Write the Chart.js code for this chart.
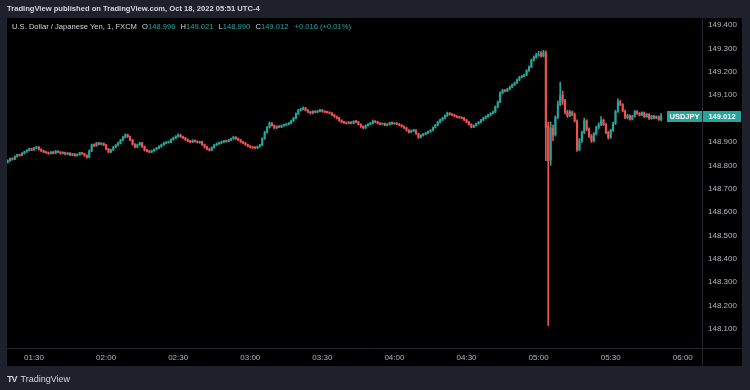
<!DOCTYPE html>
<html>
<head>
<meta charset="utf-8">
<script src="https://cdn.jsdelivr.net/npm/chart.js@4.4.1/dist/chart.umd.min.js"></script>
<style>
  html, body { margin: 0; padding: 0; background: #1e212b; }
  body { width: 750px; height: 390px; position: relative; overflow: hidden; font-family: "Liberation Sans", Arial, sans-serif; }
  canvas { position: absolute; left: 0; top: 0; }
  .header { position: absolute; left: 7px; top: 4px; font-size: 7.6px; font-weight: bold; color: #d1d4dc; white-space: nowrap; }
  .legend { position: absolute; left: 12px; top: 22px; font-size: 7.6px; color: #d1d4dc; white-space: nowrap; }
  .legend span { margin-left: 3px; }
  .legend .v { color: #26a69a; margin-left: 0; }
  .brand { position: absolute; left: 7px; top: 374px; font-size: 9px; color: #d1d4dc; white-space: nowrap; }
  .brand b { font-size: 9px; letter-spacing: -1px; margin-right: 4px; }
</style>
</head>
<body>
<canvas id="chart" width="750" height="390"></canvas>
<div class="header">TradingView published on TradingView.com, Oct 18, 2022 05:51 UTC-4</div>
<div class="legend">U.S. Dollar / Japanese Yen, 1, FXCM
  <span>O</span><span class="v">148.996</span>
  <span>H</span><span class="v">149.021</span>
  <span>L</span><span class="v">148.990</span>
  <span>C</span><span class="v">149.012</span>
  <span class="v" style="margin-left:4px">+0.016 (+0.01%)</span>
</div>
<div class="brand"><b>TV</b>TradingView</div>
<script>
// one-minute candles, first one on screen is 01:19
const startMinute = 79;

const opens = [
  148.812, 148.820, 148.828, 148.826, 148.838, 148.845, 148.842, 148.852, 148.858,
  148.864, 148.870, 148.866, 148.874, 148.878, 148.868, 148.862, 148.857, 148.854, 148.850,
  148.856, 148.852, 148.860, 148.857, 148.851, 148.855, 148.848, 148.852, 148.844, 148.848,
  148.842, 148.846, 148.853, 148.850, 148.842, 148.835, 148.862, 148.887, 148.884, 148.895,
  148.890, 148.893, 148.887, 148.870, 148.857, 148.866, 148.878, 148.886, 148.895, 148.908,
  148.920, 148.930, 148.922, 148.908, 148.890, 148.878, 148.888, 148.895, 148.880, 148.865,
  148.860, 148.857, 148.862, 148.868, 148.874, 148.880, 148.888, 148.895, 148.898, 148.900,
  148.910, 148.917, 148.924, 148.930, 148.922, 148.917, 148.910, 148.904, 148.900, 148.906,
  148.902, 148.898, 148.900, 148.888, 148.878, 148.870, 148.865, 148.876, 148.887, 148.892,
  148.895, 148.900, 148.904, 148.902, 148.908, 148.914, 148.920, 148.914, 148.908, 148.900,
  148.895, 148.888, 148.882, 148.878, 148.876, 148.874, 148.880, 148.887, 148.915, 148.942,
  148.962, 148.980, 148.970, 148.960, 148.966, 148.964, 148.970, 148.972, 148.976, 148.980,
  148.990, 149.002, 149.020, 149.036, 149.040, 149.045, 149.035, 149.028, 149.023, 149.030,
  149.028, 149.032, 149.036, 149.030, 149.028, 149.026, 149.023, 149.015, 149.008, 149.002,
  148.992, 148.985, 148.982, 148.980, 148.984, 148.980, 148.988, 148.985, 148.975, 148.966,
  148.960, 148.970, 148.976, 148.980, 148.988, 148.985, 148.980, 148.976, 148.978, 148.972,
  148.975, 148.982, 148.978, 148.980, 148.976, 148.972, 148.966, 148.960, 148.950, 148.942,
  148.948, 148.950, 148.935, 148.920, 148.928, 148.934, 148.938, 148.944, 148.950, 148.962,
  148.972, 148.985, 148.994, 149.002, 149.012, 149.023, 149.018, 149.015, 149.010, 149.006,
  149.004, 149.002, 148.994, 148.985, 148.975, 148.964, 148.970, 148.978, 148.985, 148.994,
  149.002, 149.008, 149.015, 149.022, 149.028, 149.050, 149.071, 149.110, 149.120, 149.118,
  149.126, 149.135, 149.144, 149.152, 149.165, 149.177, 149.180, 149.186, 149.205, 149.220,
  149.250, 149.262, 149.270, 149.275, 149.268, 149.282, 148.968, 148.822, 148.958, 148.930,
  149.006, 149.060, 149.100, 149.075, 149.030, 149.012, 149.028, 149.018, 148.990, 148.868,
  148.905, 148.940, 148.990, 148.955, 148.925, 148.905, 148.935, 148.962, 148.975, 148.992,
  148.975, 148.940, 148.920, 148.950, 148.980, 149.030, 149.072, 149.060, 149.032, 149.005,
  149.012, 148.998, 149.010, 149.030, 149.022, 149.015, 149.025, 149.008, 149.018, 149.000,
  149.010, 149.002, 149.008, 148.996
];

const highs = [
  148.824, 148.831, 148.832, 148.841, 148.848, 148.848, 148.855, 148.861, 148.867,
  148.874, 148.873, 148.877, 148.882, 148.880, 148.871, 148.865, 148.860, 148.857, 148.859,
  148.860, 148.864, 148.862, 148.859, 148.858, 148.857, 148.855, 148.855, 148.851, 148.850,
  148.849, 148.856, 148.856, 148.852, 148.845, 148.866, 148.891, 148.892, 148.899, 148.898,
  148.897, 148.896, 148.890, 148.873, 148.869, 148.881, 148.889, 148.899, 148.911, 148.924,
  148.935, 148.933, 148.925, 148.911, 148.893, 148.891, 148.899, 148.898, 148.883, 148.868,
  148.863, 148.865, 148.871, 148.877, 148.884, 148.891, 148.899, 148.902, 148.904, 148.913,
  148.921, 148.927, 148.935, 148.933, 148.925, 148.920, 148.913, 148.907, 148.910, 148.909,
  148.905, 148.903, 148.903, 148.891, 148.881, 148.873, 148.879, 148.890, 148.896, 148.899,
  148.904, 148.907, 148.908, 148.911, 148.917, 148.925, 148.923, 148.917, 148.911, 148.903,
  148.898, 148.891, 148.885, 148.881, 148.879, 148.883, 148.890, 148.918, 148.946, 148.966,
  148.986, 148.983, 148.973, 148.969, 148.970, 148.973, 148.976, 148.979, 148.984, 148.993,
  149.006, 149.024, 149.040, 149.044, 149.050, 149.048, 149.038, 149.031, 149.034, 149.033,
  149.035, 149.040, 149.039, 149.033, 149.031, 149.029, 149.026, 149.018, 149.011, 149.005,
  148.995, 148.988, 148.986, 148.987, 148.987, 148.991, 148.992, 148.988, 148.978, 148.969,
  148.973, 148.979, 148.984, 148.994, 148.991, 148.988, 148.983, 148.981, 148.981, 148.978,
  148.985, 148.986, 148.983, 148.983, 148.979, 148.975, 148.969, 148.963, 148.953, 148.951,
  148.954, 148.953, 148.938, 148.931, 148.937, 148.941, 148.947, 148.953, 148.965, 148.976,
  148.989, 148.998, 149.006, 149.016, 149.028, 149.026, 149.021, 149.018, 149.013, 149.009,
  149.007, 149.005, 148.997, 148.988, 148.978, 148.973, 148.981, 148.988, 148.997, 149.006,
  149.012, 149.018, 149.025, 149.032, 149.054, 149.075, 149.114, 149.126, 149.124, 149.130,
  149.139, 149.148, 149.156, 149.169, 149.181, 149.185, 149.190, 149.209, 149.225, 149.255,
  149.268, 149.279, 149.288, 149.286, 149.292, 149.290, 148.985, 148.985, 148.972, 149.012,
  149.075, 149.155, 149.118, 149.082, 149.036, 149.035, 149.032, 149.024, 148.995, 148.915,
  148.946, 149.002, 148.995, 148.960, 148.932, 148.940, 148.968, 148.982, 149.008, 148.998,
  148.980, 148.945, 148.955, 148.985, 149.035, 149.084, 149.078, 149.064, 149.036, 149.018,
  149.016, 149.014, 149.035, 149.034, 149.026, 149.029, 149.028, 149.022, 149.021, 149.014,
  149.014, 149.012, 149.011, 149.021
];

const lows = [
  148.809, 148.817, 148.822, 148.824, 148.835, 148.839, 148.840, 148.849, 148.855,
  148.861, 148.863, 148.864, 148.871, 148.865, 148.859, 148.854, 148.851, 148.847, 148.848,
  148.849, 148.850, 148.854, 148.848, 148.849, 148.845, 148.846, 148.841, 148.841, 148.839,
  148.839, 148.843, 148.847, 148.839, 148.831, 148.832, 148.858, 148.880, 148.881, 148.887,
  148.887, 148.884, 148.866, 148.853, 148.854, 148.863, 148.875, 148.883, 148.892, 148.905,
  148.917, 148.919, 148.905, 148.886, 148.874, 148.875, 148.885, 148.877, 148.861, 148.857,
  148.853, 148.854, 148.859, 148.865, 148.871, 148.877, 148.885, 148.892, 148.895, 148.897,
  148.907, 148.914, 148.921, 148.919, 148.914, 148.906, 148.901, 148.896, 148.897, 148.899,
  148.895, 148.894, 148.885, 148.874, 148.866, 148.861, 148.862, 148.873, 148.884, 148.889,
  148.892, 148.897, 148.899, 148.899, 148.905, 148.911, 148.911, 148.905, 148.897, 148.892,
  148.885, 148.879, 148.874, 148.872, 148.870, 148.871, 148.877, 148.884, 148.911, 148.938,
  148.959, 148.967, 148.956, 148.957, 148.961, 148.961, 148.966, 148.969, 148.973, 148.977,
  148.987, 148.999, 149.017, 149.032, 149.037, 149.032, 149.025, 149.019, 149.020, 149.025,
  149.025, 149.029, 149.027, 149.025, 149.023, 149.020, 149.012, 149.005, 148.998, 148.989,
  148.982, 148.979, 148.977, 148.977, 148.977, 148.977, 148.982, 148.972, 148.962, 148.956,
  148.957, 148.967, 148.973, 148.977, 148.982, 148.977, 148.973, 148.973, 148.969, 148.969,
  148.972, 148.975, 148.975, 148.973, 148.969, 148.963, 148.957, 148.946, 148.938, 148.939,
  148.944, 148.932, 148.915, 148.917, 148.925, 148.931, 148.935, 148.941, 148.947, 148.959,
  148.969, 148.982, 148.991, 148.999, 149.009, 149.015, 149.012, 149.007, 149.003, 149.001,
  148.999, 148.991, 148.982, 148.972, 148.960, 148.961, 148.967, 148.975, 148.982, 148.991,
  148.999, 149.005, 149.012, 149.019, 149.025, 149.046, 149.068, 149.106, 149.114, 149.115,
  149.123, 149.132, 149.141, 149.149, 149.162, 149.174, 149.177, 149.183, 149.202, 149.217,
  149.246, 149.258, 149.266, 149.262, 149.264, 148.820, 148.115, 148.800, 148.905, 148.925,
  149.000, 149.055, 149.060, 149.020, 149.005, 149.008, 149.012, 148.985, 148.860, 148.862,
  148.898, 148.935, 148.948, 148.918, 148.898, 148.900, 148.930, 148.956, 148.970, 148.970,
  148.935, 148.912, 148.915, 148.945, 148.975, 149.026, 149.055, 149.028, 149.000, 148.998,
  148.993, 148.994, 149.006, 149.018, 149.011, 149.012, 149.004, 149.005, 148.996, 148.997,
  148.998, 148.999, 148.992, 148.990
];

const closes = [
  148.820, 148.828, 148.826, 148.838, 148.845, 148.842, 148.852, 148.858, 148.864,
  148.870, 148.866, 148.874, 148.878, 148.868, 148.862, 148.857, 148.854, 148.850, 148.856,
  148.852, 148.860, 148.857, 148.851, 148.855, 148.848, 148.852, 148.844, 148.848, 148.842,
  148.846, 148.853, 148.850, 148.842, 148.835, 148.862, 148.887, 148.884, 148.895, 148.890,
  148.893, 148.887, 148.870, 148.857, 148.866, 148.878, 148.886, 148.895, 148.908, 148.920,
  148.930, 148.922, 148.908, 148.890, 148.878, 148.888, 148.895, 148.880, 148.865, 148.860,
  148.857, 148.862, 148.868, 148.874, 148.880, 148.888, 148.895, 148.898, 148.900, 148.910,
  148.917, 148.924, 148.930, 148.922, 148.917, 148.910, 148.904, 148.900, 148.906, 148.902,
  148.898, 148.900, 148.888, 148.878, 148.870, 148.865, 148.876, 148.887, 148.892, 148.895,
  148.900, 148.904, 148.902, 148.908, 148.914, 148.920, 148.914, 148.908, 148.900, 148.895,
  148.888, 148.882, 148.878, 148.876, 148.874, 148.880, 148.887, 148.915, 148.942, 148.962,
  148.980, 148.970, 148.960, 148.966, 148.964, 148.970, 148.972, 148.976, 148.980, 148.990,
  149.002, 149.020, 149.036, 149.040, 149.045, 149.035, 149.028, 149.023, 149.030, 149.028,
  149.032, 149.036, 149.030, 149.028, 149.026, 149.023, 149.015, 149.008, 149.002, 148.992,
  148.985, 148.982, 148.980, 148.984, 148.980, 148.988, 148.985, 148.975, 148.966, 148.960,
  148.970, 148.976, 148.980, 148.988, 148.985, 148.980, 148.976, 148.978, 148.972, 148.975,
  148.982, 148.978, 148.980, 148.976, 148.972, 148.966, 148.960, 148.950, 148.942, 148.948,
  148.950, 148.935, 148.920, 148.928, 148.934, 148.938, 148.944, 148.950, 148.962, 148.972,
  148.985, 148.994, 149.002, 149.012, 149.023, 149.018, 149.015, 149.010, 149.006, 149.004,
  149.002, 148.994, 148.985, 148.975, 148.964, 148.970, 148.978, 148.985, 148.994, 149.002,
  149.008, 149.015, 149.022, 149.028, 149.050, 149.071, 149.110, 149.120, 149.118, 149.126,
  149.135, 149.144, 149.152, 149.165, 149.177, 149.180, 149.186, 149.205, 149.220, 149.250,
  149.262, 149.270, 149.275, 149.268, 149.282, 148.962, 148.820, 148.960, 148.930, 149.006,
  149.060, 149.100, 149.075, 149.030, 149.012, 149.028, 149.018, 148.990, 148.868, 148.905,
  148.940, 148.990, 148.955, 148.925, 148.905, 148.935, 148.962, 148.975, 148.992, 148.975,
  148.940, 148.920, 148.950, 148.980, 149.030, 149.072, 149.060, 149.032, 149.005, 149.012,
  148.998, 149.010, 149.030, 149.022, 149.015, 149.025, 149.008, 149.018, 149.000, 149.010,
  149.002, 149.008, 148.996, 149.012
];

const timeTicks = ['01:30', '02:00', '02:30', '03:00', '03:30', '04:00', '04:30', '05:00', '05:30', '06:00'];
const priceTicks = [148.1, 148.2, 148.3, 148.4, 148.5, 148.6, 148.7, 148.8, 148.9, 149.0, 149.1, 149.2, 149.3, 149.4];
const symbol = 'USDJPY';

const UP = '#26a69a';
const DOWN = '#ef5350';
const FONT = '"Liberation Sans", Arial, sans-serif';

const toMinutes = (s) => { const [h, m] = s.split(':').map(Number); return h * 60 + m; };
const fmtTime = (v) => String(Math.floor(v / 60)).padStart(2, '0') + ':' + String(v % 60).padStart(2, '0');
const minutes = closes.map((_, i) => startMinute + i);
const candleColor = (ctx) => closes[ctx.dataIndex] >= opens[ctx.dataIndex] ? UP : DOWN;

const panePlugin = {
  id: 'pane',
  beforeDraw(chart) {
    const c = chart.ctx;
    c.save();
    c.fillStyle = '#000000';
    c.fillRect(7, 18, 735, 348);
    c.restore();
  },
  afterDraw(chart) {
    const c = chart.ctx;
    const area = chart.chartArea;
    const y = chart.scales.y;
    c.save();
    // axis separators
    c.strokeStyle = '#24262e';
    c.lineWidth = 1;
    c.beginPath();
    c.moveTo(Math.round(area.right) + 0.5, 18);
    c.lineTo(Math.round(area.right) + 0.5, 366);
    c.moveTo(7, Math.round(area.bottom) + 0.5);
    c.lineTo(742, Math.round(area.bottom) + 0.5);
    c.stroke();

    // last price label
    const last = closes.length - 1;
    const py = Math.round(y.getPixelForValue(closes[last]));
    c.fillStyle = closes[last] >= opens[last] ? UP : DOWN;
    c.fillRect(area.right - 35, py - 5, 35, 11);
    c.fillRect(area.right + 1, py - 5, 38, 11);
    c.fillStyle = '#ffffff';
    c.font = 'bold 7.5px ' + FONT;
    c.textAlign = 'center';
    c.textBaseline = 'middle';
    c.fillText(symbol, area.right - 17.5, py + 0.5);
    c.fillText(closes[last].toFixed(3), area.right + 20, py + 0.5);
    c.restore();
  }
};

new Chart(document.getElementById('chart'), {
  type: 'bar',
  data: {
    datasets: [
      {
        label: 'wick',
        data: minutes.map((m, i) => ({ x: m, y: [lows[i], highs[i]] })),
        backgroundColor: candleColor,
        barThickness: 1,
        grouped: false,
        order: 2
      },
      {
        label: 'body',
        data: minutes.map((m, i) => ({ x: m, y: [Math.min(opens[i], closes[i]), Math.max(opens[i], closes[i])] })),
        backgroundColor: candleColor,
        barThickness: 1.4,
        minBarLength: 1,
        grouped: false,
        order: 1
      }
    ]
  },
  options: {
    responsive: false,
    animation: false,
    layout: { padding: { left: 7, top: 18, right: 8, bottom: 24 } },
    plugins: { legend: { display: false }, tooltip: { enabled: false } },
    scales: {
      x: {
        type: 'linear',
        min: 78.76,
        max: 368,
        offset: false,
        grid: { display: false, drawTicks: false },
        border: { display: false },
        ticks: {
          color: '#b2b5be',
          font: { size: 8, family: FONT },
          padding: 5,
          maxRotation: 0,
          autoSkip: false,
          callback: (v) => fmtTime(v)
        },
        afterBuildTicks: (s) => { s.ticks = timeTicks.map((t) => ({ value: toMinutes(t) })); },
        afterFit: (s) => { s.height = 18; }
      },
      y: {
        position: 'right',
        min: 148.019,
        max: 149.43,
        grid: { display: false, drawTicks: false },
        border: { display: false },
        ticks: {
          color: '#b2b5be',
          font: { size: 8, family: FONT },
          padding: 6,
          callback: (v) => v.toFixed(3)
        },
        afterBuildTicks: (s) => { s.ticks = priceTicks.map((v) => ({ value: v })); },
        afterFit: (s) => { s.width = 40; }
      }
    }
  },
  plugins: [panePlugin]
});
</script>
</body>
</html>
